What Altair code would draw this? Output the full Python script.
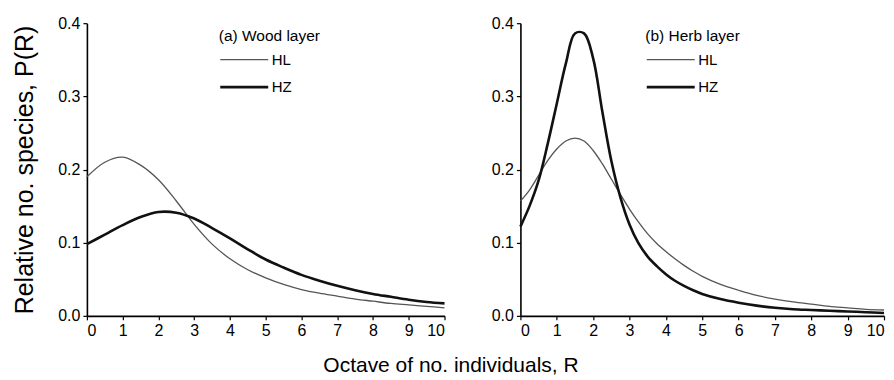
import altair as alt
import pandas as pd

# ---- data ----
wood_x = [0, 0.5, 1, 1.5, 2, 2.5, 3, 3.5, 4, 4.5, 5, 5.5, 6, 6.5, 7, 7.5, 8, 8.5, 9, 9.5, 10]
wood_HL = [0.190, 0.210, 0.217, 0.206, 0.186, 0.157, 0.125, 0.098, 0.078, 0.063, 0.052,
           0.043, 0.036, 0.031, 0.027, 0.023, 0.020, 0.017, 0.015, 0.013, 0.011]
wood_HZ = [0.098, 0.111, 0.124, 0.135, 0.142, 0.141, 0.133, 0.120, 0.106, 0.091, 0.077,
           0.066, 0.056, 0.048, 0.041, 0.035, 0.030, 0.026, 0.022, 0.019, 0.017]

herb_x = [0, 0.25, 0.5, 0.75, 1, 1.25, 1.5, 1.75, 2, 2.25, 2.5, 2.75, 3, 3.25, 3.5, 3.75,
          4, 4.25, 4.5, 4.75, 5, 5.5, 6, 6.5, 7, 7.5, 8, 8.5, 9, 9.5, 10]
herb_HL = [0.157, 0.172, 0.192, 0.212, 0.228, 0.239, 0.243, 0.239, 0.226, 0.208, 0.187,
           0.166, 0.146, 0.128, 0.112, 0.099, 0.088, 0.078, 0.069, 0.061, 0.054, 0.043,
           0.035, 0.028, 0.023, 0.019, 0.016, 0.013, 0.011, 0.009, 0.008]
herb_HZ = [0.122, 0.150, 0.185, 0.235, 0.290, 0.345, 0.386, 0.386, 0.352, 0.280, 0.212,
           0.162, 0.125, 0.099, 0.081, 0.068, 0.057, 0.048, 0.041, 0.035, 0.030, 0.023,
           0.018, 0.014, 0.011, 0.009, 0.008, 0.007, 0.006, 0.005, 0.004]

series = ["HL", "HZ"]
x_ticks = list(range(0, 11))
y_ticks = [0.0, 0.1, 0.2, 0.3, 0.4]

FONT = "Liberation Sans"


def frame(xs, hl, hz):
    rows = []
    for x, v in zip(xs, hl):
        rows.append({"R": x, "P": v, "site": "HL"})
    for x, v in zip(xs, hz):
        rows.append({"R": x, "P": v, "site": "HZ"})
    return pd.DataFrame(rows)


def panel(df, legend_title, show_ytitle, lx, ly, w):
    leg = alt.Legend(
        title=legend_title, orient="none", legendX=lx, legendY=ly,
        symbolType="M-1,0H5", symbolSize=256, symbolStrokeColor="black",
        titleFont=FONT, titleFontSize=15.5, titleFontWeight="normal", titleColor="black",
        labelFont=FONT, labelFontSize=15, labelColor="black", labelOffset=34,
        titlePadding=6, rowPadding=10,
    )
    return alt.Chart(df).mark_line(interpolate="catmull-rom").encode(
        x=alt.X("R:Q", scale=alt.Scale(domain=[0, 10], nice=False),
                axis=alt.Axis(values=x_ticks, format="d", title=None)),
        y=alt.Y("P:Q", scale=alt.Scale(domain=[0, 0.4], nice=False),
                axis=alt.Axis(values=y_ticks, format=".1f",
                              title="Relative no. species, P(R)" if show_ytitle else None)),
        color=alt.Color("site:N", scale=alt.Scale(domain=series, range=["#555555", "#111111"]),
                        legend=leg),
        strokeWidth=alt.StrokeWidth("site:N", scale=alt.Scale(domain=series, range=[1.3, 2.6]),
                                    legend=leg),
    ).properties(width=w, height=293)


left = panel(frame(wood_x, wood_HL, wood_HZ), "(a) Wood layer", True, 132, 6, 358)
right = panel(frame(herb_x, herb_HL, herb_HZ), "(b) Herb layer", False, 125, 6, 364)

chart = alt.hconcat(left, right, spacing=40).resolve_scale(
    color="independent", strokeWidth="independent"
).resolve_legend(
    color="independent", strokeWidth="independent"
).properties(
    title=alt.TitleParams("Octave of no. individuals, R", orient="bottom", anchor="middle",
                          font=FONT, fontSize=21, fontWeight="normal", color="black", offset=16),
    padding={"left": 12, "top": 15, "right": 4, "bottom": 2},
).configure_view(stroke=None).configure_axis(
    domainColor="black", domainWidth=1.6, tickColor="black", tickWidth=1.2, tickSize=4,
    labelFont=FONT, labelFontSize=16, labelColor="black", grid=False,
    titleFont=FONT, titleFontSize=25, titleFontWeight="normal", titleColor="black",
    labelPadding=3,
).configure_axisY(titlePadding=20)

chart.save("out.html", embed_options={"renderer": "svg", "actions": False})
